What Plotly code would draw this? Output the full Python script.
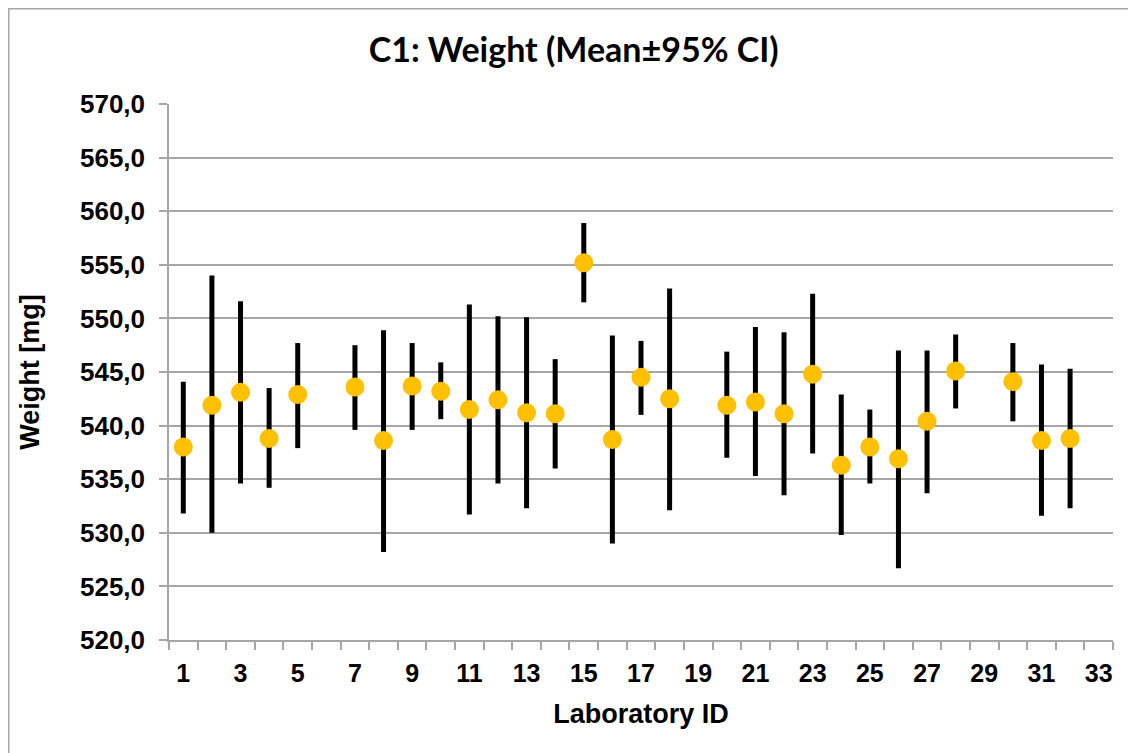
import plotly.graph_objects as go

labs = [1, 2, 3, 4, 5, 7, 8, 9, 10, 11, 12, 13, 14, 15, 16, 17, 18, 20, 21, 22, 23, 24, 25, 26, 27, 28, 30, 31, 32]
mean = [538.0, 541.9, 543.1, 538.8, 542.9, 543.6, 538.6, 543.7, 543.2, 541.5, 542.4, 541.2, 541.1, 555.2, 538.7,
        544.5, 542.5, 541.9, 542.2, 541.1, 544.8, 536.3, 538.0, 536.9, 540.4, 545.1, 544.1, 538.6, 538.8]
upper = [544.1, 554.0, 551.6, 543.5, 547.7, 547.5, 548.9, 547.7, 545.9, 551.3, 550.2, 550.1, 546.2, 558.9, 548.4,
         547.9, 552.8, 546.9, 549.2, 548.7, 552.3, 542.9, 541.5, 547.0, 547.0, 548.5, 547.7, 545.7, 545.3]
lower = [531.8, 530.0, 534.6, 534.2, 537.9, 539.6, 528.2, 539.6, 540.6, 531.7, 534.6, 532.3, 536.0, 551.5, 529.0,
         541.0, 532.1, 537.0, 535.3, 533.5, 537.4, 529.8, 534.6, 526.7, 533.7, 541.6, 540.4, 531.6, 532.3]
x_ticks = list(range(1, 34, 2))
y_ticks = list(range(520, 571, 5))

err_plus = [u - m for u, m in zip(upper, mean)]
err_minus = [m - l for m, l in zip(mean, lower)]

GRID = "#a6a6a6"
# plot area in figure coordinates (page has an 8px body offset)
L, T, W, H = 161, 96, 944, 536

fig = go.Figure()
fig.add_trace(go.Scatter(
    x=labs, y=mean, mode="markers",
    marker=dict(color="#FFC000", size=19, line=dict(width=0)),
    error_y=dict(type="data", symmetric=False, array=err_plus, arrayminus=err_minus,
                 color="black", thickness=5, width=0),
    showlegend=False,
))

fig.update_layout(
    width=1136, height=753,
    paper_bgcolor="white", plot_bgcolor="white",
    margin=dict(l=L, r=1136 - L - W, t=T, b=753 - T - H, autoexpand=False),
    separators=",.",
    title=dict(text="C1: Weight (Mean\u00b195% CI)", x=0.498, xanchor="center", y=1 - 42 / 753, yanchor="middle",
               font=dict(family="Lato", size=34, color="black", weight="bold")),
    font=dict(family="Liberation Sans, Arial", color="black"),
    xaxis=dict(
        range=[0.5, 33.5], tickmode="array", tickvals=x_ticks, ticks="",
        tickfont=dict(size=25, family="Liberation Sans, Arial", weight="bold"),
        ticklabelstandoff=10,
        showgrid=False, zeroline=False, showline=True, linecolor=GRID, linewidth=1.5,
        minor=dict(ticks="outside", tick0=0.5, dtick=1, ticklen=8, tickcolor=GRID, tickwidth=1.5, showgrid=False),
        title=dict(text="Laboratory ID", standoff=18,
                   font=dict(size=27, family="Liberation Sans, Arial", weight="bold")),
    ),
    yaxis=dict(
        range=[520, 570], tickmode="array", tickvals=y_ticks, tickformat=".1f",
        ticks="outside", ticklen=8, tickcolor=GRID, tickwidth=1.5,
        tickfont=dict(size=26, family="Liberation Sans, Arial", weight="bold"),
        ticklabelstandoff=9,
        showgrid=True, gridcolor=GRID, gridwidth=1.5, zeroline=False,
        showline=True, linecolor=GRID, linewidth=1.5,
        title=dict(text="Weight [mg]", standoff=33,
                   font=dict(size=27, family="Liberation Sans, Arial", weight="bold")),
    ),
    shapes=[dict(type="rect", xref="paper", yref="paper",
                 x0=(0.75 - L) / W, x1=(1160 - L) / W,
                 y0=-(800 - T - H) / H, y1=1 + (T - 0.75) / H,
                 line=dict(color=GRID, width=1.5), fillcolor="rgba(0,0,0,0)", layer="below")],
)

fig.write_html("out.html")
